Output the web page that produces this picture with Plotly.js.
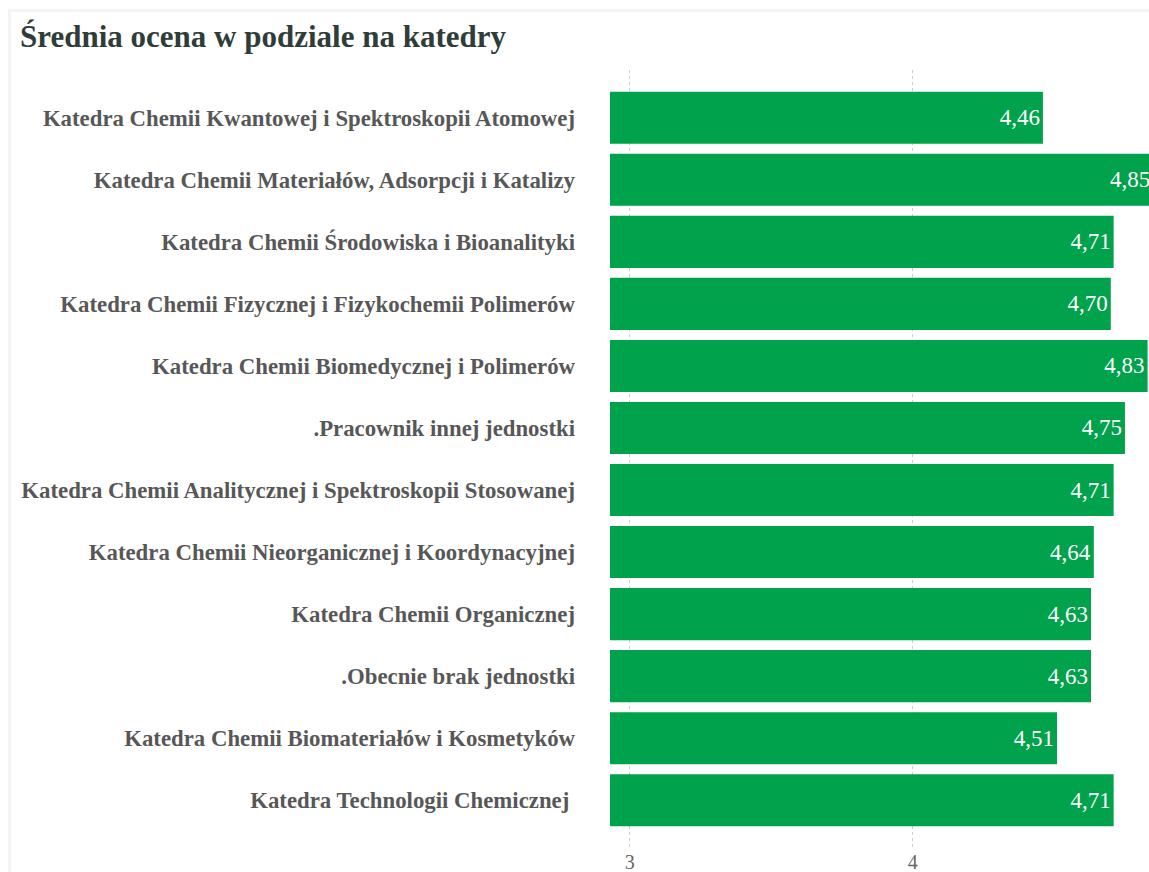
<!DOCTYPE html>
<html>
<head>
<meta charset="utf-8">
<script src="https://cdn.plot.ly/plotly-3.0.1.min.js"></script>
<style>
html,body{margin:0;padding:0;background:#fff;}
#chart{width:1149px;height:872px;position:absolute;left:0;top:0;}
#frame{position:absolute;left:8px;top:9px;width:1141px;height:863px;border-top:3px solid #f4f4f4;border-left:3px solid #f4f4f4;pointer-events:none;}
</style>
</head>
<body>
<div id="chart"></div>
<div id="frame"></div>
<script>
var categories = [
  "Katedra Chemii Kwantowej i Spektroskopii Atomowej",
  "Katedra Chemii Materiałów, Adsorpcji i Katalizy",
  "Katedra Chemii Środowiska i Bioanalityki",
  "Katedra Chemii Fizycznej i Fizykochemii Polimerów",
  "Katedra Chemii Biomedycznej i Polimerów",
  ".Pracownik innej jednostki",
  "Katedra Chemii Analitycznej i Spektroskopii Stosowanej",
  "Katedra Chemii Nieorganicznej i Koordynacyjnej",
  "Katedra Chemii Organicznej",
  ".Obecnie brak jednostki",
  "Katedra Chemii Biomateriałów i Kosmetyków",
  "Katedra Technologii Chemicznej\u00a0"
];
var values = [4.46, 4.85, 4.71, 4.70, 4.83, 4.75, 4.71, 4.64, 4.63, 4.63, 4.51, 4.71];
var tickValues = [3, 4];

var labels = values.map(function(v){ return v.toFixed(2).replace('.', ','); });
var serif = '"Liberation Serif", "Times New Roman", serif';

var trace = {
  type: 'bar',
  orientation: 'h',
  y: categories,
  x: values,
  text: labels,
  textposition: 'inside',
  insidetextanchor: 'end',
  textfont: {family: serif, size: 23, color: '#ffffff'},
  marker: {color: '#00a24b'},
  hoverinfo: 'none',
  cliponaxis: true
};

var layout = {
  width: 1149,
  height: 872,
  paper_bgcolor: '#ffffff',
  plot_bgcolor: '#ffffff',
  margin: {l: 610, r: 0, t: 70, b: 24, pad: 0},
  showlegend: false,
  bargap: 0.16,
  title: {
    text: 'Średnia ocena w podziale na katedry',
    x: 0, xref: 'container', xanchor: 'left',
    y: 0.958, yref: 'container', yanchor: 'middle',
    pad: {l: 20},
    font: {family: serif, size: 31, color: '#2f3d39', weight: 'bold'}
  },
  xaxis: {
    range: [2.93, 4.835],
    tickvals: tickValues,
    ticktext: tickValues.map(String),
    showgrid: true,
    gridcolor: '#cfcfcf',
    griddash: 'dot',
    gridwidth: 1,
    zeroline: false,
    showline: false,
    ticks: '',
    tickfont: {family: serif, size: 20, color: '#666666'},
    fixedrange: true
  },
  yaxis: {
    type: 'category',
    range: [11.77, -0.77],
    showgrid: false,
    zeroline: false,
    showline: false,
    ticks: '',
    ticklabelstandoff: 34,
    tickfont: {family: serif, size: 22.8, color: '#575757', weight: 'bold'},
    fixedrange: true
  }
};

Plotly.newPlot('chart', [trace], layout, {displayModeBar: false, staticPlot: true});
</script>
</body>
</html>
